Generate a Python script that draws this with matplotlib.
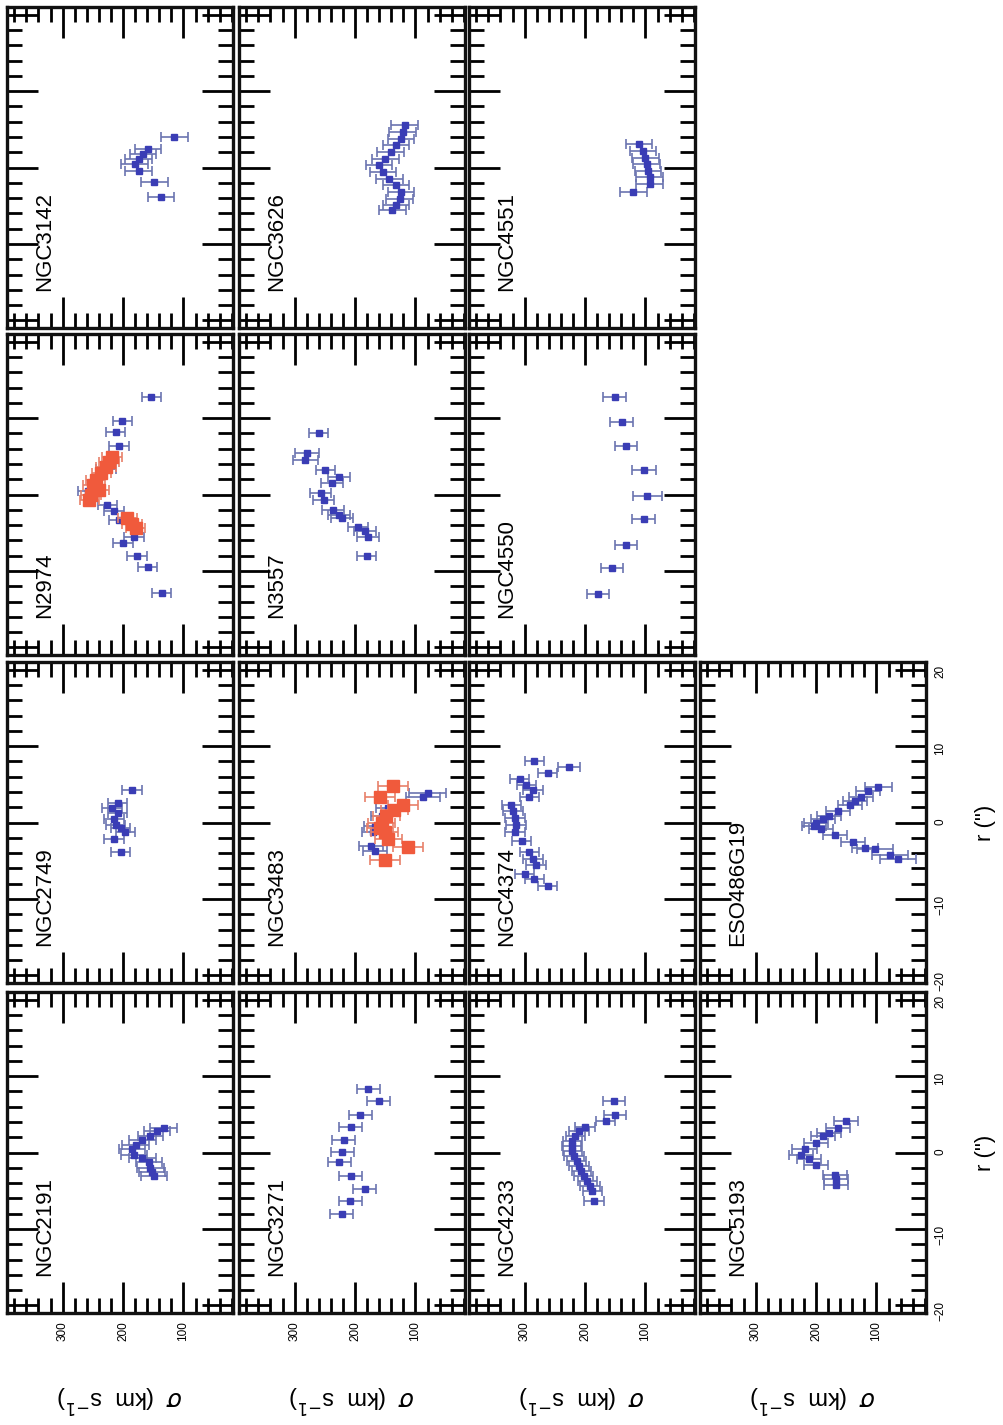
import matplotlib
matplotlib.use('Agg')
import matplotlib.pyplot as plt
from matplotlib.ticker import MultipleLocator

plt.rcParams['font.family'] = ['Liberation Sans', 'DejaVu Sans']

# ---- data: r (arcsec), sigma (km/s), sigma error (km/s)
ngc2191_r = [3.2, 2.8, 2.1, 1.7, 1.0, 0.4, -0.3, -0.7, -1.3, -2.0, -2.6, -3.1]
ngc2191_s = [133, 144, 155, 168, 179, 185, 182, 168, 157, 155, 152, 149]
ngc2191_e = [22, 22, 21, 22, 22, 21, 22, 22, 21, 22, 22, 22]

ngc2749_r = [4.2, 2.6, 1.9, 1.3, 0.4, -0.3, -0.7, -1.3, -2.2, -3.9]
ngc2749_s = [185, 209, 218, 209, 215, 212, 204, 196, 215, 204]
ngc2749_e = [16, 16, 16, 16, 16, 16, 16, 16, 16, 16]

n2974_r = [12.8, 9.6, 8.2, 6.4, 3.4, 0.4, -1.4, -2.2, -3.4, -5.5, -6.4, -8.0, -9.5, -12.9]
n2974_s = [153, 201, 212, 207, 228, 258, 226, 215, 207, 182, 200, 177, 159, 136]
n2974_e = [16, 16, 16, 17, 16, 16, 16, 16, 16, 16, 16, 16, 16, 16]
n2974_red_r = [4.9, 4.3, 3.6, 2.8, 1.9, 1.2, 0.6, -0.1, -0.7, -3.1, -3.8, -4.4]
n2974_red_s = [218, 223, 228, 236, 245, 250, 239, 253, 256, 193, 185, 179]
n2974_red_e = [16, 16, 16, 16, 16, 16, 16, 16, 16, 16, 16, 16]

ngc3142_r = [4.0, 2.4, 1.8, 1.1, 0.5, -0.4, -1.9, -3.9]
ngc3142_s = [115, 159, 167, 174, 181, 174, 148, 137]
ngc3142_e = [22, 22, 22, 22, 22, 22, 22, 22]

ngc3271_r = [8.3, 6.7, 4.9, 3.3, 1.7, 0.1, -1.3, -3.1, -4.8, -6.4, -8.1]
ngc3271_s = [178, 161, 191, 207, 219, 221, 226, 207, 184, 208, 222]
ngc3271_e = [19, 19, 19, 19, 19, 19, 19, 19, 19, 19, 19]

ngc3483_r = [3.9, 3.4, 1.9, 0.8, -0.5, -1.3, -3.1, -3.7]
ngc3483_s = [80, 88, 145, 156, 167, 170, 173, 167]
ngc3483_e = [30, 28, 20, 18, 18, 18, 20, 20]
ngc3483_red_r = [4.8, 3.4, 2.3, 1.7, 0.8, 0.0, -0.7, -1.3, -2.2, -3.2, -4.9]
ngc3483_red_s = [137, 159, 121, 135, 148, 156, 159, 151, 145, 112, 151]
ngc3483_red_e = [25, 25, 25, 22, 22, 22, 22, 22, 22, 25, 25]

n3557_r = [8.0, 5.4, 4.5, 3.2, 2.3, 1.5, 0.2, -0.7, -2.0, -2.7, -3.1, -4.2, -4.8, -5.5, -8.0]
n3557_s = [260, 279, 282, 249, 227, 238, 257, 252, 236, 227, 222, 195, 184, 178, 181]
n3557_e = [16, 20, 20, 16, 18, 18, 18, 18, 18, 18, 18, 16, 18, 18, 16]

ngc3626_r = [5.5, 4.6, 3.7, 2.9, 2.0, 1.1, 0.3, -0.6, -1.5, -2.3, -3.2, -4.1, -4.9, -5.6]
ngc3626_s = [118, 121, 124, 132, 141, 150, 160, 154, 143, 132, 124, 126, 132, 138]
ngc3626_e = [22, 22, 22, 22, 22, 22, 22, 22, 22, 22, 22, 22, 22, 22]

ngc4233_r = [6.8, 4.9, 4.1, 3.3, 2.8, 2.1, 1.5, 0.8, 0.2, -0.5, -1.1, -1.8,
             -2.4, -3.1, -3.7, -4.4, -5.0, -6.3]
ngc4233_s = [152, 151, 166, 200, 210, 216, 221, 222, 221, 218, 214, 210,
             206, 202, 196, 192, 188, 185]
ngc4233_e = [18, 18, 16, 16, 16, 16, 16, 16, 16, 16, 16, 16,
             16, 16, 16, 16, 16, 16]

ngc4374_r = [8.1, 7.3, 6.5, 5.7, 4.9, 4.3, 3.4, 2.3, 1.5, 0.6, -0.3, -1.3,
             -2.4, -3.9, -4.8, -5.5, -6.8, -7.4, -8.3]
ngc4374_s = [284, 226, 262, 308, 297, 286, 292, 322, 319, 316, 314, 316,
             305, 292, 286, 281, 300, 284, 262]
ngc4374_e = [16, 18, 16, 16, 16, 16, 16, 16, 16, 16, 16, 16,
             16, 16, 16, 16, 16, 16, 16]

ngc4550_r = [12.7, 9.5, 6.3, 3.2, -0.2, -3.2, -6.6, -9.6, -13.0]
ngc4550_s = [151, 139, 132, 103, 97, 103, 132, 155, 178]
ngc4550_e = [19, 19, 18, 20, 24, 19, 18, 18, 18]

ngc4551_r = [3.1, 2.2, 1.3, 0.5, -0.4, -1.3, -2.1, -3.2]
ngc4551_s = [111, 104, 100, 98, 96, 93, 93, 120]
ngc4551_e = [22, 22, 22, 22, 22, 22, 22, 22]

ngc5193_r = [4.1, 3.2, 2.6, 2.1, 1.3, 0.4, -0.3, -0.9, -1.6, -2.9, -3.5, -4.2]
ngc5193_s = [150, 164, 178, 189, 200, 219, 225, 211, 200, 169, 167, 167]
ngc5193_e = [20, 20, 20, 20, 20, 20, 20, 20, 20, 20, 20, 20]

eso486_r = [4.7, 4.1, 3.4, 2.8, 2.3, 1.5, 0.8, 0.4, 0.0, -0.5, -0.9, -1.6,
            -2.6, -3.3, -3.5, -4.2, -4.8]
eso486_s = [97, 114, 125, 136, 144, 164, 178, 189, 200, 203, 192, 169,
            139, 119, 103, 78, 64]
eso486_e = [22, 20, 20, 20, 20, 20, 20, 20, 20, 20, 20, 20,
            20, 22, 30, 30, 30]

# panel name -> (image column, image row, blue data, red data)
panels = [
    ('NGC2191', 0, 3, (ngc2191_r, ngc2191_s, ngc2191_e), None),
    ('NGC2749', 0, 2, (ngc2749_r, ngc2749_s, ngc2749_e), None),
    ('N2974', 0, 1, (n2974_r, n2974_s, n2974_e), (n2974_red_r, n2974_red_s, n2974_red_e)),
    ('NGC3142', 0, 0, (ngc3142_r, ngc3142_s, ngc3142_e), None),
    ('NGC3271', 1, 3, (ngc3271_r, ngc3271_s, ngc3271_e), None),
    ('NGC3483', 1, 2, (ngc3483_r, ngc3483_s, ngc3483_e), (ngc3483_red_r, ngc3483_red_s, ngc3483_red_e)),
    ('N3557', 1, 1, (n3557_r, n3557_s, n3557_e), None),
    ('NGC3626', 1, 0, (ngc3626_r, ngc3626_s, ngc3626_e), None),
    ('NGC4233', 2, 3, (ngc4233_r, ngc4233_s, ngc4233_e), None),
    ('NGC4374', 2, 2, (ngc4374_r, ngc4374_s, ngc4374_e), None),
    ('NGC4550', 2, 1, (ngc4550_r, ngc4550_s, ngc4550_e), None),
    ('NGC4551', 2, 0, (ngc4551_r, ngc4551_s, ngc4551_e), None),
    ('NGC5193', 3, 3, (ngc5193_r, ngc5193_s, ngc5193_e), None),
    ('ESO486G19', 3, 2, (eso486_r, eso486_s, eso486_e), None),
]

# ---- layout in pixels (figure is drawn rotated by 90 deg, like the scan)
W, H = 1004, 1425
colLeft = [7, 239, 469, 700]
rowTop = [7, 334, 662, 992]
panW, panH = 226, 321
blue, blueErr = '#3a3db5', '#6b74b0'
red, redErr = '#f05a3c', '#e8806a'

fig = plt.figure(figsize=(W / 100, H / 100), dpi=100)

for name, c, rr, bdat, rdat in panels:
    ax = fig.add_axes([colLeft[c] / W, 1 - (rowTop[rr] + panH) / H, panW / W, panH / H])
    r, s, e = bdat
    ax.errorbar(s, r, xerr=e, fmt='s', color=blue, ms=5, mec=blue,
                ecolor=blueErr, elinewidth=1.2, capsize=3.5, capthick=1.2, zorder=3)
    if rdat is not None:
        r2, s2, e2 = rdat
        ax.errorbar(s2, r2, xerr=e2, fmt='s', color=red, ms=8, mec=red,
                    ecolor=redErr, elinewidth=1.2, capsize=3.5, capthick=1.2, zorder=4)
    ax.set_xlim(392, 18)
    ax.set_ylim(-21, 21)
    ax.minorticks_on()
    ax.xaxis.set_major_locator(MultipleLocator(100))
    ax.xaxis.set_minor_locator(MultipleLocator(20))
    ax.yaxis.set_major_locator(MultipleLocator(10))
    ax.yaxis.set_minor_locator(MultipleLocator(2))
    ax.tick_params(which='major', direction='in', top=True, bottom=True,
                   left=True, right=True, color='black', width=2.0, length=22)
    ax.tick_params(which='minor', direction='in', top=True, bottom=True,
                   left=True, right=True, color='black', width=2.0, length=11)
    ax.tick_params(labelleft=False, labeltop=False,
                   labelbottom=(rr == 3), labelright=(c == 3))
    ax.tick_params(axis='both', labelsize=8.5, labelrotation=90, pad=6)
    for sp in ax.spines.values():
        sp.set_linewidth(2.4)
        sp.set_color('#111111')
    ax.text(0.168, 0.115, name, rotation=90, transform=ax.transAxes,
            ha='center', va='bottom', fontsize=16)

# axis labels, rotated like the scanned page
for c in range(4):
    fig.text((colLeft[c] + panW / 2) / W, 1 - 1398 / H, r'$\sigma$  (km  s$^{-1}$)',
             rotation=180, ha='center', va='center', fontsize=17)
for rr in (2, 3):
    fig.text(986 / W, 1 - (rowTop[rr] + panH / 2) / H, 'r (")',
             rotation=90, ha='center', va='center', fontsize=16)

fig.savefig('out.png', dpi=100)
